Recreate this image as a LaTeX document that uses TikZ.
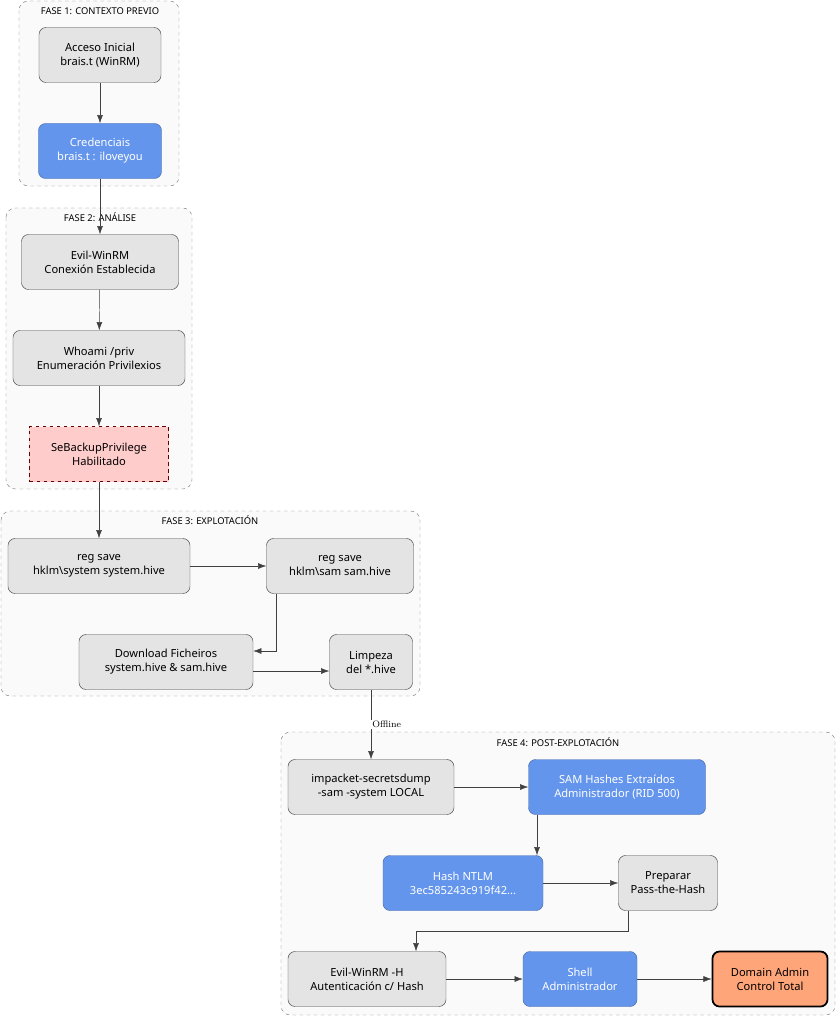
\documentclass[tikz,border=0pt]{standalone}
\usepackage{fontspec}
\setmainfont{Noto Sans}
\usepackage{tikz}
\usetikzlibrary{arrows.meta}
\definecolor{stepgray}{HTML}{E4E4E4}
\definecolor{stepblue}{HTML}{6495ED}
\definecolor{steppink}{HTML}{FFCCCC}
\definecolor{steporange}{HTML}{FFA57A}
\definecolor{phasebg}{HTML}{FAFAFA}
\begin{document}
\begin{tikzpicture}[x=0.03cm, y=-0.03cm,
  font=\fontsize{9.5}{12}\selectfont,
  stage/.style={draw=black!75, fill=stepgray, rounded corners=6pt, align=center, minimum height=1.65cm, inner sep=2pt},
  key/.style={stage, fill=stepblue, text=white, draw=stepblue!70!black},
  flag/.style={stage, fill=steppink, draw=red!40!black, dashed, rounded corners=0pt},
  goal/.style={stage, fill=steporange, draw=black, line width=1.5pt},
  phase/.style={draw=black!50, dashed, fill=phasebg, rounded corners=8pt},
  phasetitle/.style={font=\fontsize{8}{10}\selectfont},
  flow/.style={draw=black!75, -{Latex[length=7pt,width=5pt]}}]
\useasboundingbox (0,0) rectangle (836,1016);

% phases
\draw[phase] (19,1) rectangle (179,186);
\node[phasetitle] (f1) at (100,11) {FASE 1: CONTEXTO PREVIO};
\draw[phase] (6,208) rectangle (192,489);
\node[phasetitle] (f2) at (100,217) {FASE 2: ANÁLISE};
\draw[phase] (1,511) rectangle (420,696);
\node[phasetitle] (f3) at (210,520) {FASE 3: EXPLOTACIÓN};
\draw[phase] (281,732) rectangle (835,1015);
\node[phasetitle] (f4) at (558,742) {FASE 4: POST-EXPLOTACIÓN};

% fase 1
\node[stage, minimum width=3.66cm] (acceso) at (100,55) {Acceso Inicial\\brais.t (WinRM)};
\node[key, minimum width=3.69cm] (creds) at (100,151) {Credenciais\\brais.t : iloveyou};

% fase 2
\node[stage, minimum width=4.71cm] (evil) at (100,262) {Evil-WinRM\\Conexión Establecida};
\node[stage, minimum width=5.16cm] (whoami) at (99,358) {Whoami /priv\\Enumeración Privilexios};
\node[flag, minimum width=4.17cm] (sebackup) at (99,454) {SeBackupPrivilege\\Habilitado};

% fase 3
\node[stage, minimum width=5.46cm] (regsys) at (99,566) {reg save\\hklm\textbackslash system system.hive};
\node[stage, minimum width=4.41cm] (regsam) at (340,566) {reg save\\hklm\textbackslash sam sam.hive};
\node[stage, minimum width=5.22cm] (download) at (166,662) {Download Ficheiros\\system.hive \& sam.hive};
\node[stage, minimum width=2.49cm] (limpeza) at (371,662) {Limpeza\\del *.hive};

% fase 4
\node[stage, minimum width=4.98cm] (secrets) at (371,787) {impacket-secretsdump\\-sam -system LOCAL};
\node[key, minimum width=5.31cm] (samhash) at (617,787) {SAM Hashes Extraídos\\Administrador (RID 500)};
\node[key, minimum width=4.8cm] (ntlm) at (463,883) {Hash NTLM\\3ec585243c919f42...};
\node[stage, minimum width=2.97cm] (pth) at (668,883) {Preparar\\Pass-the-Hash};
\node[stage, minimum width=4.74cm] (evilh) at (367,979) {Evil-WinRM -H\\Autenticación c/ Hash};
\node[key, minimum width=3.42cm] (shell) at (580,979) {Shell\\Administrador};
\node[goal, minimum width=3.45cm] (domain) at (770,979) {Domain Admin\\Control Total};

% connectors
\draw[flow] (acceso) -- (creds);
\draw[flow] (creds) -- (evil);
\draw[flow] (evil) -- (whoami);
\draw[flow] (whoami) -- (sebackup);
\draw[flow] (sebackup) -- (regsys);
\draw[flow] (regsys) -- (regsam);
\draw[flow] (regsam.south -| 276,0) |- (download.east |- 0,651);
\draw[flow] (download.east |- 0,671) -- (limpeza.west |- 0,671);
\draw[flow] (limpeza) -- node[right, font=\fontfamily{lmr}\fontsize{8}{10}\selectfont, fill=white, inner sep=1pt] {Offline} (secrets);
\draw[flow] (secrets) -- (samhash);
\draw[flow] (samhash.south -| 537,0) -- (ntlm.north -| 537,0);
\draw[flow] (ntlm) -- (pth);
\draw[flow] (pth.south -| 628,0) |- (416,931) -- (evilh.north -| 416,0);
\draw[flow] (evilh) -- (shell);
\draw[flow] (shell) -- (domain);
\end{tikzpicture}
\end{document}
